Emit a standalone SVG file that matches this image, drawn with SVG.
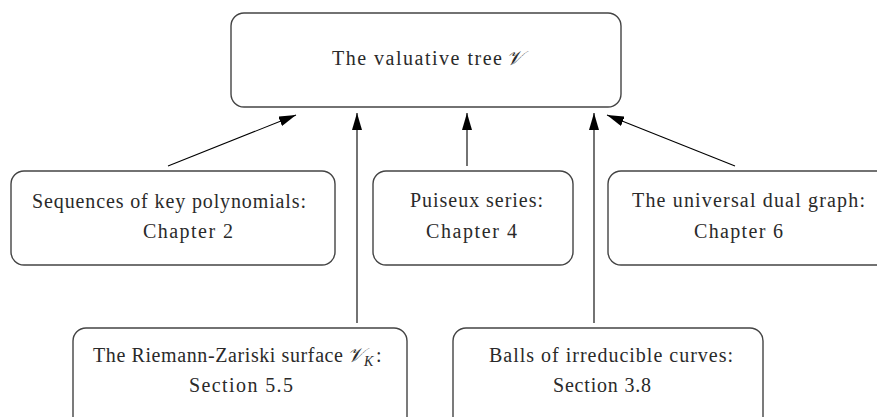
<svg xmlns="http://www.w3.org/2000/svg" width="877" height="417" viewBox="0 0 877 417">
<style>
.box{fill:#fff;stroke:#444;stroke-width:1.4}
.t{font-family:"Liberation Serif","Times New Roman",serif;font-size:20px;fill:#2a2a2a}
.m{font-family:"DejaVu Serif","DejaVu Sans","Noto Sans",serif;font-style:italic}
.c{stroke:#000;stroke-width:1.1;fill:none}
</style>
<defs>
<marker id="ah" markerUnits="userSpaceOnUse" markerWidth="18" markerHeight="10" refX="17" refY="5" orient="auto">
<path d="M0,0 L17,5 L0,10 Z" fill="#000"/>
</marker>
</defs>
<rect width="877" height="417" fill="#fff"/>
<g id="connectors">
<line class="c" x1="168" y1="166" x2="296" y2="115" marker-end="url(#ah)"/>
<line class="c" x1="357" y1="323" x2="357" y2="113" marker-end="url(#ah)"/>
<line class="c" x1="467" y1="166" x2="467" y2="113" marker-end="url(#ah)"/>
<line class="c" x1="594" y1="323" x2="594" y2="113" marker-end="url(#ah)"/>
<line class="c" x1="735" y1="166" x2="607" y2="115" marker-end="url(#ah)"/>
</g>
<g id="valuative-tree">
<rect class="box" x="231" y="13" width="390" height="94" rx="13"/>
<text class="t" y="65"><tspan x="332" textLength="170">The valuative tree</tspan><tspan x="506" class="m">𝒱</tspan></text>
</g>
<g id="key-polynomials">
<rect class="box" x="11" y="171" width="324" height="94" rx="13"/>
<text class="t" x="32" y="208" textLength="274">Sequences of key polynomials:</text>
<text class="t" x="143" y="238" textLength="90">Chapter 2</text>
</g>
<g id="puiseux">
<rect class="box" x="373" y="171" width="200" height="94" rx="13"/>
<text class="t" x="410" y="207" textLength="133">Puiseux series:</text>
<text class="t" x="426" y="238" textLength="91">Chapter 4</text>
</g>
<g id="dual-graph">
<rect class="box" x="608" y="171" width="300" height="94" rx="13"/>
<text class="t" x="632" y="207" textLength="233">The universal dual graph:</text>
<text class="t" x="694" y="238" textLength="89">Chapter 6</text>
</g>
<g id="riemann-zariski">
<rect class="box" x="73" y="328" width="334" height="120" rx="13"/>
<text class="t" y="362"><tspan x="93" textLength="250">The Riemann-Zariski surface</tspan><tspan x="347" class="m">𝒱</tspan><tspan x="364" dy="4" font-size="14" font-style="italic">K</tspan><tspan x="376" dy="-4">:</tspan></text>
<text class="t" x="189" y="392" textLength="104">Section 5.5</text>
</g>
<g id="balls">
<rect class="box" x="453" y="328" width="310" height="120" rx="13"/>
<text class="t" x="489" y="362" textLength="244">Balls of irreducible curves:</text>
<text class="t" x="553" y="392" textLength="98">Section 3.8</text>
</g>
</svg>
